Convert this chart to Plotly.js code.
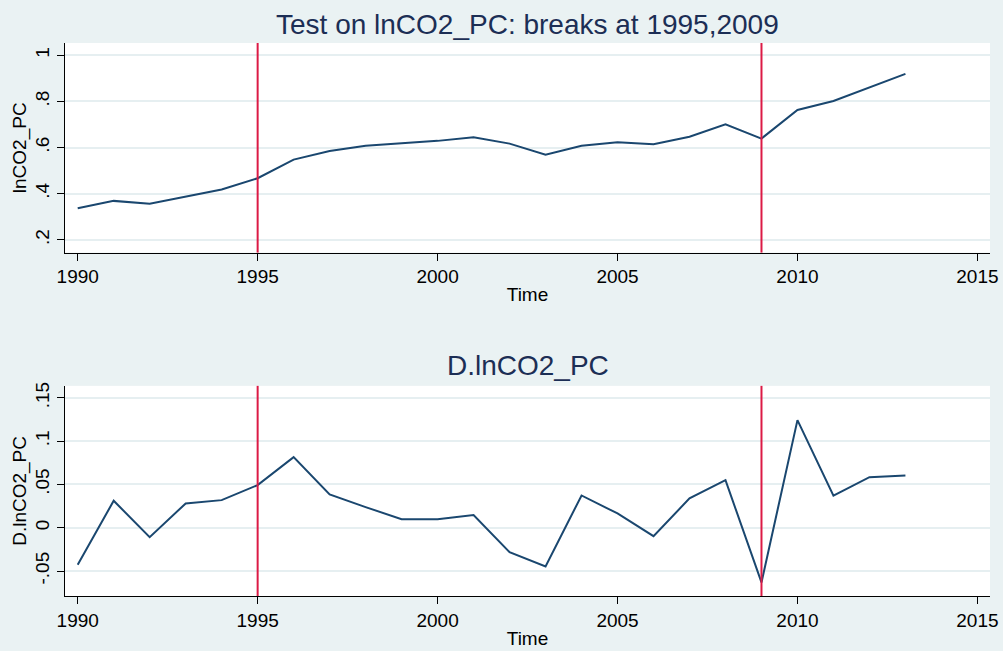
<!DOCTYPE html>
<html>
<head>
<meta charset="utf-8">
<script src="https://cdn.plot.ly/plotly-3.0.1.min.js"></script>
<style>html,body{margin:0;padding:0;background:#eaf2f3;}#chart{width:1003px;height:651px;}</style>
</head>
<body>
<div id="chart"></div>
<script>
// ---- data ----
const years = [1990,1991,1992,1993,1994,1995,1996,1997,1998,1999,2000,2001,2002,2003,2004,2005,2006,2007,2008,2009,2010,2011,2012,2013];
const lnCO2_PC = [0.337,0.369,0.357,0.387,0.418,0.467,0.548,0.585,0.608,0.619,0.629,0.645,0.617,0.569,0.608,0.623,0.614,0.647,0.701,0.639,0.763,0.802,0.861,0.919];
const D_lnCO2_PC = [-0.0428,0.0312,-0.0109,0.0281,0.0319,0.0493,0.0816,0.0385,0.0238,0.0099,0.0099,0.0146,-0.0282,-0.0447,0.0373,0.0165,-0.0097,0.0339,0.055,-0.0632,0.1244,0.037,0.0585,0.0605];
const breaks = [1995, 2009];
const xTicks = [1990,1995,2000,2005,2010,2015];
const yTicksTop = [0.2,0.4,0.6,0.8,1];
const yTickTextTop = ['.2','.4','.6','.8','1'];
const yTicksBot = [-0.05,0,0.05,0.1,0.15];
const yTickTextBot = ['-.05','0','.05','.1','.15'];
const titleTop = 'Test on lnCO2_PC: breaks at 1995,2009';
const titleBot = 'D.lnCO2_PC';

// ---- styles ----
const FONT = 'Arial, "Liberation Sans", sans-serif';
const NAVY = '#1a476f';
const RED = '#dc1a45';
const GRID = '#e6eff1';
const BG = '#eaf2f3';

const traces = [
  {x: years, y: lnCO2_PC, type: 'scatter', mode: 'lines', line: {color: NAVY, width: 2}, xaxis: 'x', yaxis: 'y', hoverinfo: 'x+y'},
  {x: years, y: D_lnCO2_PC, type: 'scatter', mode: 'lines', line: {color: NAVY, width: 2}, xaxis: 'x2', yaxis: 'y2', hoverinfo: 'x+y'}
];

function xax(anchor){
  return {
    anchor: anchor, range: [1989.647, 2015.35], tickvals: xTicks, ticks: 'outside', ticklen: 7, tickwidth: 1, tickcolor: '#000',
    showgrid: false, zeroline: false, showline: true, linecolor: '#000', linewidth: 1,
    tickfont: {family: FONT, size: 19, color: '#000'},
    title: {text: 'Time', font: {family: FONT, size: 19, color: '#000'}, standoff: 1}
  };
}
function yax(anchor, domain, range, tv, tt, title){
  return {
    anchor: anchor, domain: domain, range: range, tickvals: tv, ticktext: tt, tickangle: -90,
    ticks: 'outside', ticklen: 7, tickwidth: 1, tickcolor: '#000',
    showgrid: true, gridcolor: GRID, gridwidth: 2, zeroline: false,
    showline: true, linecolor: '#000', linewidth: 1,
    tickfont: {family: FONT, size: 19, color: '#000'},
    title: {text: title, font: {family: FONT, size: 19, color: '#000'}, standoff: 0}
  };
}

const shapes = [];
breaks.forEach(b => {
  shapes.push({type: 'line', xref: 'x', yref: 'y domain', x0: b, x1: b, y0: 0, y1: 1, line: {color: RED, width: 2}});
  shapes.push({type: 'line', xref: 'x2', yref: 'y2 domain', x0: b, x1: b, y0: 0, y1: 1, line: {color: RED, width: 2}});
});

const layout = {
  width: 1003, height: 651,
  paper_bgcolor: BG, plot_bgcolor: '#ffffff',
  margin: {l: 65.3, r: 13.3, t: 43, b: 54.7},
  showlegend: false,
  xaxis: Object.assign(xax('y'), {domain: [0, 1]}),
  yaxis: yax('x', [0.621, 1], [0.145, 1.053], yTicksTop, yTickTextTop, 'lnCO2_PC'),
  xaxis2: Object.assign(xax('y2'), {domain: [0, 1]}),
  yaxis2: yax('x2', [0, 0.380], [-0.0789, 0.164], yTicksBot, yTickTextBot, 'D.lnCO2_PC'),
  shapes: shapes,
  annotations: [
    {text: titleTop, xref: 'paper', yref: 'paper', x: 0.5, y: 1.034, xanchor: 'center', yanchor: 'middle', showarrow: false,
     font: {family: FONT, size: 28, color: '#1c2e55'}},
    {text: titleBot, xref: 'paper', yref: 'paper', x: 0.5, y: 0.416, xanchor: 'center', yanchor: 'middle', showarrow: false,
     font: {family: FONT, size: 28, color: '#1c2e55'}}
  ]
};

Plotly.newPlot('chart', traces, layout, {displayModeBar: false, staticPlot: true});
</script>
</body>
</html>
